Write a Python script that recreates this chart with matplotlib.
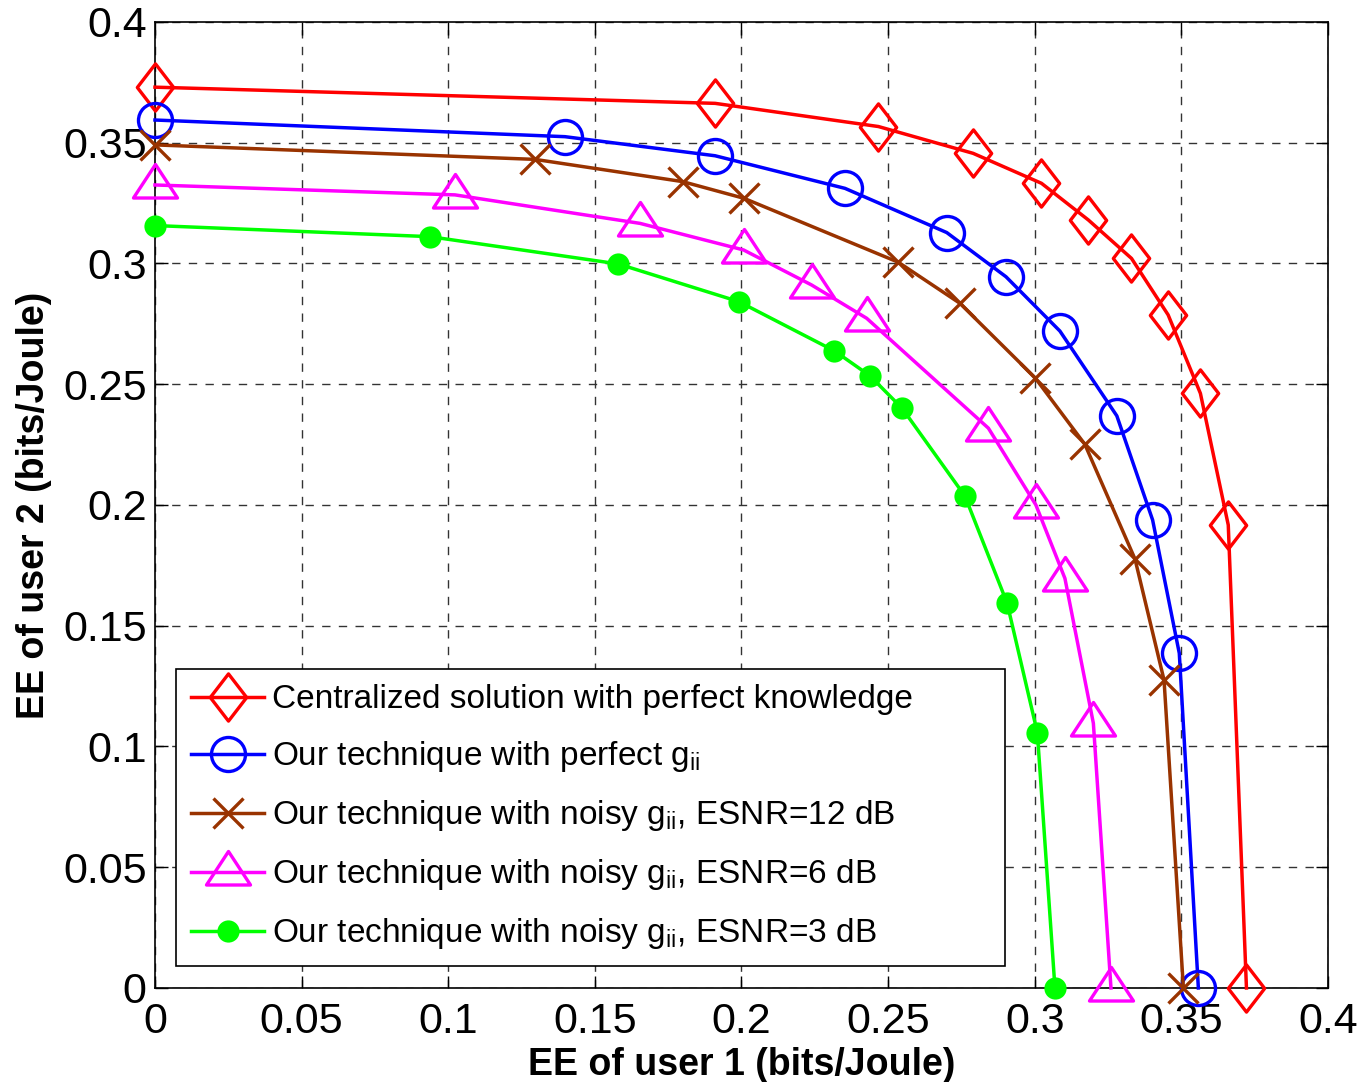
import matplotlib
matplotlib.use('Agg')
import matplotlib.pyplot as plt
from matplotlib.path import Path
import numpy as np

# EE of user 1 / user 2 for each curve
cent_x = [0.0, 0.191, 0.2467, 0.279, 0.3023, 0.3183, 0.333, 0.3455, 0.3565, 0.366, 0.3722]
cent_y = [0.373, 0.3663, 0.3567, 0.3456, 0.3332, 0.318, 0.3021, 0.2787, 0.2462, 0.1917, 0.0]

perf_x = [0.0, 0.1398, 0.191, 0.2353, 0.27, 0.2902, 0.3086, 0.328, 0.3402, 0.3493, 0.3558]
perf_y = [0.3594, 0.3525, 0.3446, 0.3311, 0.3128, 0.2945, 0.272, 0.2369, 0.1938, 0.1386, 0.0]

esnr12_x = [0.0, 0.1296, 0.1799, 0.2008, 0.2535, 0.2745, 0.3001, 0.3171, 0.3342, 0.3441, 0.3507]
esnr12_y = [0.3491, 0.3431, 0.3339, 0.327, 0.3005, 0.2835, 0.2527, 0.2251, 0.1776, 0.1275, 0.0]

esnr6_x = [0.0, 0.1023, 0.1654, 0.2007, 0.2239, 0.2427, 0.2842, 0.3004, 0.3103, 0.32, 0.326]
esnr6_y = [0.3325, 0.3284, 0.3166, 0.3056, 0.2911, 0.2773, 0.2318, 0.2, 0.1696, 0.1096, 0.0]

esnr3_x = [0.0, 0.0938, 0.158, 0.1991, 0.2317, 0.2438, 0.2548, 0.2762, 0.2906, 0.3009, 0.3069]
esnr3_y = [0.3157, 0.3111, 0.2998, 0.2842, 0.2638, 0.2535, 0.24, 0.2037, 0.1593, 0.1057, 0.0]

labels = ['Centralized solution with perfect knowledge',
          'Our technique with perfect $g_{ii}$',
          'Our technique with noisy $g_{ii}$, ESNR=12 dB',
          'Our technique with noisy $g_{ii}$, ESNR=6 dB',
          'Our technique with noisy $g_{ii}$, ESNR=3 dB']

plt.rcParams['font.family'] = ['Liberation Sans', 'DejaVu Sans']
plt.rcParams['mathtext.default'] = 'regular'

# MATLAB-like markers
diamond = Path([(0, 1), (0.77, 0), (0, -1), (-0.77, 0), (0, 1)],
               [Path.MOVETO, Path.LINETO, Path.LINETO, Path.LINETO, Path.CLOSEPOLY])
triangle = Path([(0, 21), (-22, -12.5), (22, -12.5), (0, 21)],
                [Path.MOVETO, Path.LINETO, Path.LINETO, Path.CLOSEPOLY])

def main():
    fig = plt.figure(figsize=(13.63, 10.82), dpi=100)
    ax = fig.add_axes([0.1137, 0.0869, 0.8606, 0.8928])

    lw = 2.5
    mew = 2.4
    ax.plot(cent_x, cent_y, color='#ff0000', lw=lw, marker=diamond, ms=34,
            mfc='none', mew=mew, label=labels[0], clip_on=False, zorder=5)
    ax.plot(perf_x, perf_y, color='#0000ff', lw=lw, marker='o', ms=24.5,
            mfc='none', mew=mew, label=labels[1], clip_on=False, zorder=5)
    ax.plot(esnr12_x, esnr12_y, color='#993300', lw=lw, marker='x', ms=22,
            mew=mew, label=labels[2], clip_on=False, zorder=5)
    ax.plot(esnr6_x, esnr6_y, color='#ff00ff', lw=lw, marker=triangle, ms=31.7,
            mfc='none', mew=mew, label=labels[3], clip_on=False, zorder=5)
    ax.plot(esnr3_x, esnr3_y, color='#00ff00', lw=lw, marker='o', ms=16,
            mew=0, label=labels[4], clip_on=False, zorder=5)

    ax.set_xlim(0, 0.4)
    ax.set_ylim(0, 0.4)
    ticks = np.round(np.arange(0, 0.41, 0.05), 2)
    ax.set_xticks(ticks)
    ax.set_yticks(ticks)
    ax.set_xticklabels([f'{t:g}' for t in ticks])
    ax.set_yticklabels([f'{t:g}' for t in ticks])
    ax.tick_params(direction='in', length=9, width=1, labelsize=31,
                   top=True, right=True)
    ax.tick_params(axis='x', pad=10)
    ax.tick_params(axis='y', pad=6)
    ax.grid(True, color='#333333', linestyle=(0, (6, 6)), linewidth=1)
    for s in ax.spines.values():
        s.set_linewidth(1.2)

    ax.set_xlabel('EE of user 1 (bits/Joule)', fontsize=27, fontweight='bold', labelpad=4)
    ax.set_ylabel('EE of user 2 (bits/Joule)', fontsize=27, fontweight='bold', labelpad=8)

    leg = ax.legend(loc='upper left', bbox_to_anchor=(0.018, 0.022, 0.7067, 0.308),
                    mode='expand', fontsize=24,
                    frameon=True, fancybox=False, edgecolor='black', framealpha=1,
                    handlelength=2.2, handletextpad=0.22, borderpad=0.45,
                    labelspacing=0.72, borderaxespad=0)
    leg.get_frame().set_linewidth(1.2)
    leg.set_zorder(10)

    fig.savefig('out.png', dpi=100)

if __name__ == '__main__':
    main()
